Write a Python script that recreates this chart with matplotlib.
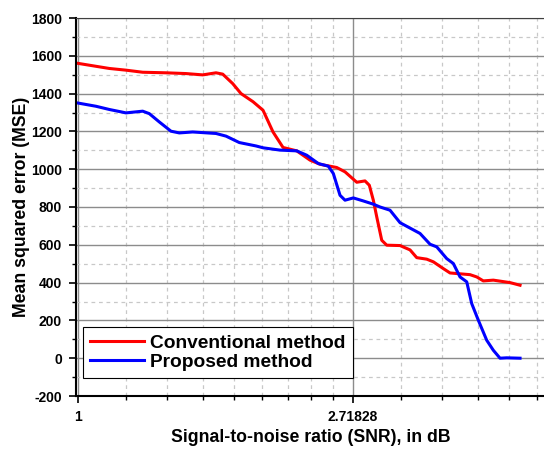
"""
plot.py

MSE versus SNR for the conventional and the proposed method (log-e x axis).
"""

import numpy as np
import matplotlib
matplotlib.use("Agg")
import matplotlib.pyplot as plt
from matplotlib.ticker import FixedLocator, FixedFormatter, MultipleLocator

plt.rcParams['font.family'] = ['Liberation Sans', 'DejaVu Sans']
plt.rcParams['font.weight'] = 'bold'
plt.rcParams['axes.unicode_minus'] = False

# Conventional method (red)
conv_snr = [1.0, 1.1206, 1.1907, 1.2653, 1.3771, 1.4810, 1.5738, 1.6517, 1.6925,
            1.7551, 1.8090, 1.8897, 1.9596, 2.0322, 2.1075, 2.2152, 2.3248, 2.4109,
            2.5618, 2.6403, 2.7553, 2.8394, 2.8843, 2.9265, 2.9630, 3.0174, 3.0726,
            3.2250, 3.3445, 3.4268, 3.5538, 3.6400, 3.7749, 3.8678, 4.1597, 4.2621,
            4.3653, 4.5272, 4.8106, 4.9890]
conv_mse = [1560, 1533, 1524, 1513, 1510, 1506, 1499, 1510, 1503,
            1453, 1400, 1357, 1312, 1197, 1115, 1097, 1048, 1026,
            1009, 986, 931, 938, 915, 836, 748, 624, 598,
            596, 573, 532, 524, 510, 474, 451, 442, 430,
            409, 413, 400, 386]

# Proposed method (blue)
prop_snr = [1.0, 1.0677, 1.1206, 1.1907, 1.2653, 1.2960, 1.3440, 1.4024, 1.4454,
            1.5176, 1.6517, 1.7130, 1.7978, 1.9104, 1.9615, 2.0845, 2.2152, 2.2971,
            2.3960, 2.4848, 2.5305, 2.5928, 2.6403, 2.7213, 2.8221, 2.9265, 2.9988,
            3.1097, 3.2250, 3.4682, 3.5966, 3.6854, 3.8216, 3.9145, 4.0111, 4.1101,
            4.1852, 4.2869, 4.4197, 4.5272, 4.6386, 4.7532, 4.9890]
prop_mse = [1350, 1333, 1316, 1298, 1307, 1294, 1250, 1201, 1192,
            1197, 1189, 1175, 1141, 1123, 1113, 1101, 1097, 1074,
            1030, 1016, 977, 862, 836, 848, 832, 815, 800,
            783, 717, 660, 603, 589, 527, 501, 430, 404,
            289, 201, 95, 42, 0, 2, 0]

major_x = [1.0, np.e]
major_x_labels = ['1', '2.71828']

fig = plt.figure(figsize=(5.44, 4.53), dpi=100)
ax = fig.add_axes([76 / 544, 57 / 453, 469 / 544, 378 / 453])

ax.set_xscale('log', base=np.e)
ax.set_xlim(0.9928, 5.463)
ax.set_ylim(-200, 1800)

# Origin-style minor ticks: 9 linear steps per decade of e
minor_x = list(1 + np.arange(1, 9) * (np.e - 1) / 9) + \
    list(np.e + np.arange(1, 6) * (np.e ** 2 - np.e) / 9)
ax.xaxis.set_major_locator(FixedLocator(major_x))
ax.xaxis.set_major_formatter(FixedFormatter(major_x_labels))
ax.xaxis.set_minor_locator(FixedLocator(minor_x))
ax.xaxis.set_minor_formatter(FixedFormatter([''] * len(minor_x)))
ax.yaxis.set_major_locator(MultipleLocator(200))
ax.yaxis.set_minor_locator(MultipleLocator(100))

ax.grid(which='major', color='#8c8c8c', linewidth=1.0, linestyle='-')
ax.grid(which='minor', color='#c8c8c8', linewidth=0.9, linestyle=(0, (3, 3)))
ax.set_axisbelow(True)

ax.tick_params(which='major', direction='out', length=5, width=1.2, labelsize=10, pad=5)
ax.tick_params(which='minor', direction='out', length=3, width=1.0)
for lab in ax.get_xticklabels() + ax.get_yticklabels():
    lab.set_fontweight('bold')

ax.spines['right'].set_visible(False)
ax.spines['top'].set_color('#404040')
ax.spines['left'].set_linewidth(1.5)
ax.spines['bottom'].set_linewidth(1.5)

ax.plot(conv_snr, conv_mse, color='#ff0000', linewidth=2.2, label='Conventional method')
ax.plot(prop_snr, prop_mse, color='#0000ff', linewidth=2.2, label='Proposed method')

ax.set_xlabel('Signal-to-noise ratio (SNR), in dB', fontsize=12.7, fontweight='bold', labelpad=4)
ax.set_ylabel('Mean squared error (MSE)', fontsize=12.7, fontweight='bold', labelpad=1)

leg = ax.legend(loc='lower left', bbox_to_anchor=(7 / 469, 18 / 378), fontsize=13.8,
                frameon=True, fancybox=False, edgecolor='black', framealpha=1,
                handlelength=2.8, handletextpad=0.35, borderpad=0.36, borderaxespad=0,
                labelspacing=0.1)
leg.get_frame().set_linewidth(0.8)
for t in leg.get_texts():
    t.set_fontweight('bold')

fig.savefig('out.png', dpi=100)
